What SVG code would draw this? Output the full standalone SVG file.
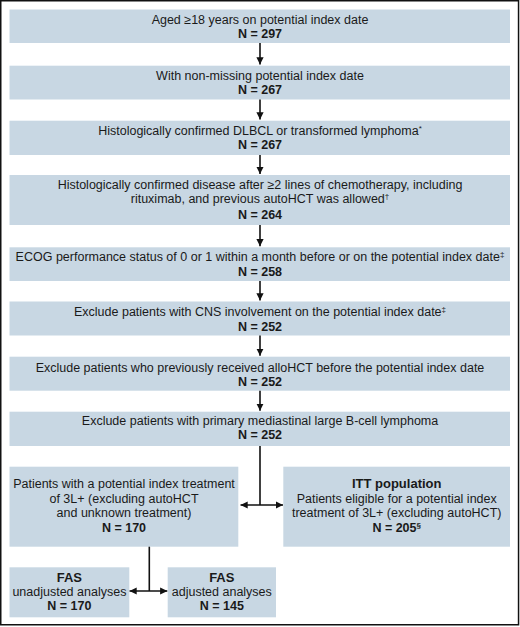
<svg xmlns="http://www.w3.org/2000/svg" width="520" height="627" viewBox="0 0 520 627">
<style>
.box{fill:#c8d7e3}
text{font-family:"Liberation Sans",Arial,sans-serif;font-size:12.5px;fill:#1a1a1a;text-anchor:middle}
.b{font-weight:bold}
.ln{stroke:#111;stroke-width:1.6;fill:none}
.sup{font-size:8px}
</style>
<defs>
<marker id="ah" viewBox="0 0 10 10" refX="10" refY="5" markerWidth="4.5" markerHeight="4.5" orient="auto-start-reverse" markerUnits="strokeWidth">
<path d="M0,0 L10,5 L0,10 z" fill="#111"/>
</marker>
</defs>
<rect x="0.75" y="0.75" width="517.8" height="624" fill="#fff" stroke="#111" stroke-width="1.5"/>

<g id="n1"><rect class="box" x="9.5" y="9.5" width="500.5" height="33.5"/>
<text x="260" y="23.5">Aged ≥18 years on potential index date</text>
<text class="b" x="260" y="37.5">N = 297</text></g>

<g id="n2"><rect class="box" x="9.5" y="65.7" width="500.5" height="33.8"/>
<text x="260" y="79.5">With non-missing potential index date</text>
<text class="b" x="260" y="93.5">N = 267</text></g>

<g id="n3"><rect class="box" x="9.5" y="120.7" width="500.5" height="34.3"/>
<text x="260" y="135">Histologically confirmed DLBCL or transformed lymphoma<tspan class="sup" dy="-4">*</tspan></text>
<text class="b" x="260" y="149">N = 267</text></g>

<g id="n4"><rect class="box" x="9.5" y="175" width="500.5" height="50"/>
<text x="260" y="188.5">Histologically confirmed disease after ≥2 lines of chemotherapy, including</text>
<text x="260" y="203">rituximab, and previous autoHCT was allowed<tspan class="sup" dy="-4">†</tspan></text>
<text class="b" x="260" y="218.5">N = 264</text></g>

<g id="n5"><rect class="box" x="9.5" y="247.3" width="500.5" height="33.7"/>
<text x="260" y="261">ECOG performance status of 0 or 1 within a month before or on the potential index date<tspan class="sup" dy="-4">‡</tspan></text>
<text class="b" x="260" y="275.5">N = 258</text></g>

<g id="n6"><rect class="box" x="9.5" y="301.5" width="500.5" height="34"/>
<text x="260" y="316">Exclude patients with CNS involvement on the potential index date<tspan class="sup" dy="-4">‡</tspan></text>
<text class="b" x="260" y="330.5">N = 252</text></g>

<g id="n7"><rect class="box" x="9.5" y="356.7" width="500.5" height="34"/>
<text x="260" y="371.5">Exclude patients who previously received alloHCT before the potential index date</text>
<text class="b" x="260" y="385.7">N = 252</text></g>

<g id="n8"><rect class="box" x="9.5" y="411.7" width="500.5" height="34.3"/>
<text x="260" y="425">Exclude patients with primary mediastinal large B-cell lymphoma</text>
<text class="b" x="260" y="439.3">N = 252</text></g>

<g id="n9"><rect class="box" x="9.5" y="466.7" width="228.8" height="80"/>
<text x="124" y="488.3">Patients with a potential index treatment</text>
<text x="124" y="502.5">of 3L+ (excluding autoHCT</text>
<text x="124" y="516.7">and unknown treatment)</text>
<text class="b" x="124" y="531.7">N = 170</text></g>

<g id="n10"><rect class="box" x="283.3" y="466.7" width="226.7" height="80"/>
<text class="b" x="396.7" y="488.3" style="font-size:13px">ITT population</text>
<text x="396.7" y="502.5">Patients eligible for a potential index</text>
<text x="396.7" y="516.7">treatment of 3L+ (excluding autoHCT)</text>
<text class="b" x="396.7" y="531.7">N = 205<tspan class="sup" dy="-4">§</tspan></text></g>

<g id="n11"><rect class="box" x="9.5" y="567.3" width="119.8" height="50"/>
<text class="b" x="69.4" y="582" style="font-size:13px">FAS</text>
<text x="69.4" y="596.3">unadjusted analyses</text>
<text class="b" x="69.4" y="610.3">N = 170</text></g>

<g id="n12"><rect class="box" x="167.7" y="567.3" width="108.3" height="50"/>
<text class="b" x="221.8" y="582" style="font-size:13px">FAS</text>
<text x="221.8" y="596.3">adjusted analyses</text>
<text class="b" x="221.8" y="610.3">N = 145</text></g>

<g id="connectors">
<line class="ln" x1="260" y1="43" x2="260" y2="64.5" marker-end="url(#ah)"/>
<line class="ln" x1="260" y1="99.5" x2="260" y2="119.5" marker-end="url(#ah)"/>
<line class="ln" x1="260" y1="155" x2="260" y2="174" marker-end="url(#ah)"/>
<line class="ln" x1="260" y1="225" x2="260" y2="246.3" marker-end="url(#ah)"/>
<line class="ln" x1="260" y1="281" x2="260" y2="300.5" marker-end="url(#ah)"/>
<line class="ln" x1="260" y1="335.5" x2="260" y2="355.7" marker-end="url(#ah)"/>
<line class="ln" x1="260" y1="390.7" x2="260" y2="410.7" marker-end="url(#ah)"/>
<line class="ln" x1="260" y1="446" x2="260" y2="505"/>
<line class="ln" x1="240.5" y1="505" x2="283" y2="505" marker-start="url(#ah)" marker-end="url(#ah)"/>
<line class="ln" x1="149.3" y1="546.7" x2="149.3" y2="591"/>
<line class="ln" x1="129.5" y1="591" x2="167.3" y2="591" marker-start="url(#ah)" marker-end="url(#ah)"/>
</g>
</svg>
